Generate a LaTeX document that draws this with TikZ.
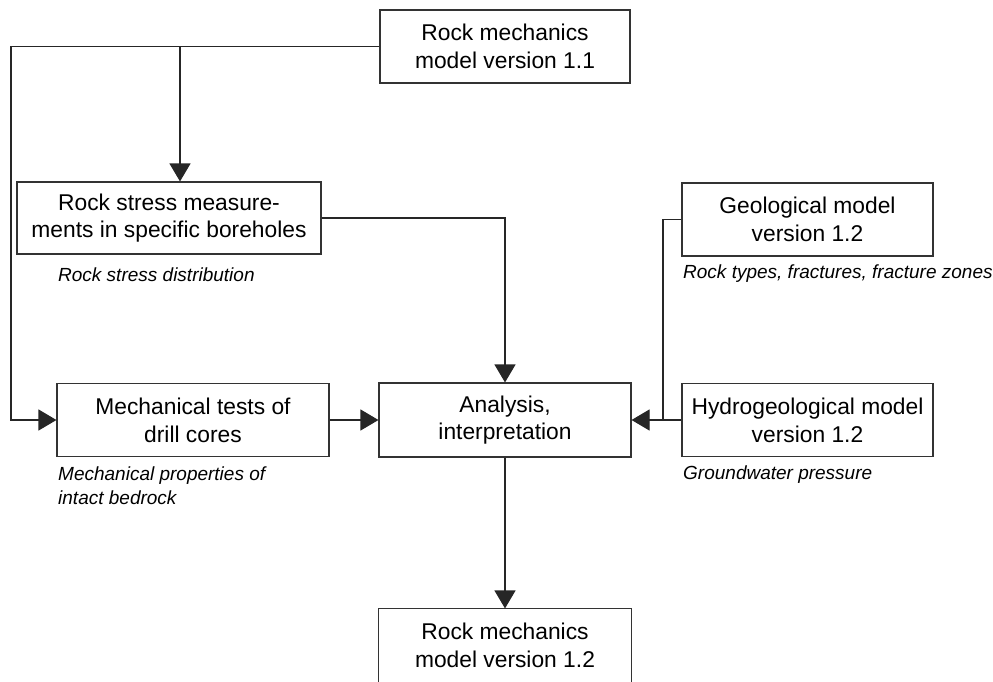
\documentclass[tikz,border=0pt]{standalone}
\usepackage{fontspec}
\setmainfont{Liberation Sans}
\usetikzlibrary{arrows.meta}
\begin{document}
\begin{tikzpicture}[x=1pt,y=-1pt,
  stagebox/.style={draw=black!80, line width=1.1pt, inner sep=0pt, align=center,
    font=\fontsize{22.8}{27.7}\selectfont},
  note/.style={anchor=north west, inner sep=0pt, align=left,
    font=\fontsize{19}{24}\selectfont\itshape},
  conn/.style={draw=black!85, line width=1.1pt},
  flow/.style={conn, -{Triangle[length=18pt,width=21pt]}}]

\fill[white] (0,0) rectangle (993,682);
\useasboundingbox (0,0) rectangle (993,682);

% process boxes
\node[stagebox, minimum width=250pt, minimum height=73pt] (rm11) at (505,46.5)
  {Rock mechanics\\model version 1.1};
\node[stagebox, minimum width=304pt, minimum height=72pt] (stress) at (169,218)
  {Rock stress measure-\\ments in specific boreholes};
\node[stagebox, minimum width=272pt, minimum height=73pt] (mech) at (193,420)
  {Mechanical tests of\\drill cores};
\node[stagebox, minimum width=252pt, minimum height=74pt] (anal) at (505,420)
  {Analysis,\\interpretation};
\node[stagebox, minimum width=251pt, minimum height=73pt] (geo) at (807.5,219.5)
  {Geological model\\version 1.2};
\node[stagebox, minimum width=251pt, minimum height=73pt] (hydro) at (807.5,420)
  {Hydrogeological model\\version 1.2};
\node[stagebox, draw=none, minimum width=252pt, minimum height=73pt] (rm12) at (505,645.5)
  {Rock mechanics\\model version 1.2};
\draw[conn, draw=black!80] (rm12.south west) -- (rm12.north west) -- (rm12.north east) -- (rm12.south east);

% result notes
\node[note] (nstress) at (58,267.5) {Rock stress distribution};
\node[note] (nmech) at (58,466.5) {Mechanical properties of\\intact bedrock};
\node[note] (ngeo) at (683,265) {Rock types, fractures, fracture zones};
\node[note] (nhydro) at (683,466) {Groundwater pressure};

% routing points
\coordinate (lft) at (11,420);
\coordinate (br) at (180,46.5);
\coordinate (jn) at (663,420);

% connectors
\draw[flow] (rm11.west) -| (lft) -- (mech.west);
\draw[flow] (br) -- (br |- stress.north);
\draw[flow] (stress.east) -| (anal.north);
\draw[flow] (mech.east) -- (anal.west);
\draw[conn] (geo.west) -| (jn);
\draw[flow] (hydro.west) -- (anal.east);
\draw[flow] (anal.south) -- (rm12.north);
\end{tikzpicture}
\end{document}
